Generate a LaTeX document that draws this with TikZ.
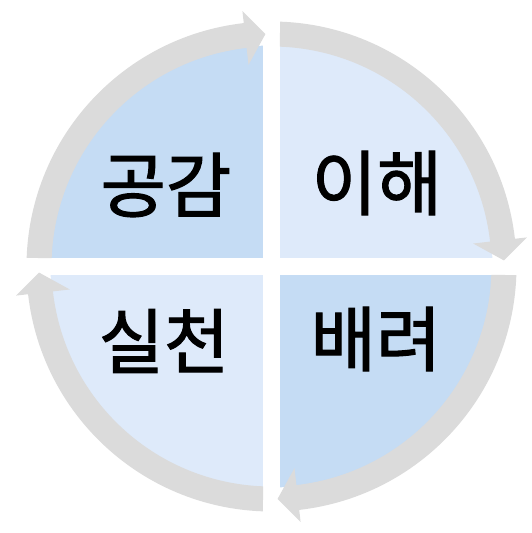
\documentclass[tikz,border=0pt]{standalone}
\usepackage{fontspec}
\newfontfamily\kfont[FakeBold=1.6]{Noto Sans CJK KR}
\definecolor{ringgray}{RGB}{219,219,219}
\definecolor{quaddark}{RGB}{197,220,244}
\definecolor{quadlight}{RGB}{222,234,250}
\tikzset{
  quadlabel/.style={font=\kfont\fontsize{71}{71}\selectfont, inner sep=0pt},
  ringarrow/.style={fill=ringgray}
}

\begin{document}
\begin{tikzpicture}
\useasboundingbox (-271.5pt,-266.5pt) rectangle (259.5pt,266.5pt);

% quarters
\begin{scope}
  \clip (0,0) circle (221pt);
  \fill[quaddark]  (-8.5pt,8.5pt)   rectangle (-240pt,240pt);
  \fill[quadlight] (8.5pt,8.5pt)    rectangle (240pt,240pt);
  \fill[quaddark]  (8.5pt,-8.5pt)   rectangle (240pt,-240pt);
  \fill[quadlight] (-8.5pt,-8.5pt)  rectangle (-240pt,-240pt);
\end{scope}

% ring arrows, clockwise
\foreach \rot in {0,-90,-180,-270}{
  \fill[ringarrow, rotate=\rot] (178:245pt)
    arc[start angle=178, end angle=96.5, radius=245pt]
    -- (96.5:257pt) -- (91.5:232.5pt) -- (96.5:203pt) -- (96.5:220pt)
    arc[start angle=96.5, end angle=177.8, radius=220pt] -- cycle;
}

\node[quadlabel] (gonggam)  at (-105.5pt,81.5pt)  {공감};
\node[quadlabel] (ihae)     at (105.5pt,83.5pt)   {이해};
\node[quadlabel] (silcheon) at (-107.5pt,-74.5pt) {실천};
\node[quadlabel] (baeryeo)  at (104.5pt,-72.5pt)  {배려};
\end{tikzpicture}
\end{document}
